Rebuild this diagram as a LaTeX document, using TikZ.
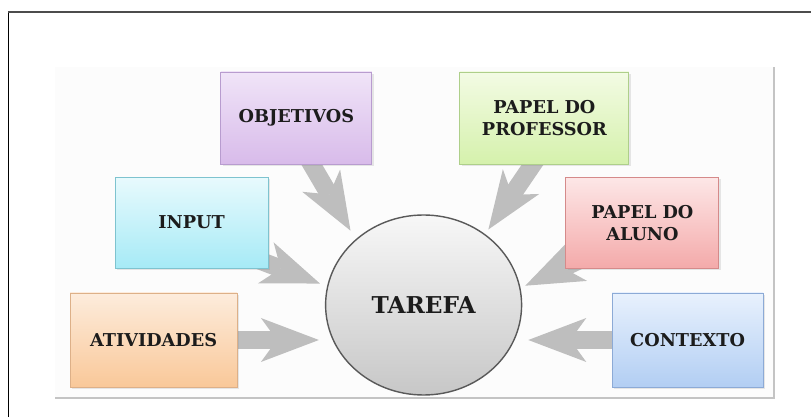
\documentclass[tikz,border=0pt]{standalone}
\usepackage{fontspec}
\setmainfont{DejaVu Serif}
\usetikzlibrary{arrows.meta,shapes.geometric,shadows,backgrounds}

\definecolor{setacinza}{HTML}{BEBEBE}
\definecolor{fundo}{HTML}{FCFCFC}
\definecolor{moldura}{HTML}{C4C4C4}
\definecolor{texto}{HTML}{1C1C1C}
\definecolor{objA}{HTML}{F0E4F8}\definecolor{objB}{HTML}{D8BBEA}\definecolor{objL}{HTML}{B89CCF}
\definecolor{profA}{HTML}{F3FBE4}\definecolor{profB}{HTML}{D5F1AC}\definecolor{profL}{HTML}{AECF8A}
\definecolor{inpA}{HTML}{E8FAFD}\definecolor{inpB}{HTML}{A6EAF6}\definecolor{inpL}{HTML}{7EC3CF}
\definecolor{alunoA}{HTML}{FDE7E7}\definecolor{alunoB}{HTML}{F4AAAA}\definecolor{alunoL}{HTML}{D58A8A}
\definecolor{ativA}{HTML}{FDECDC}\definecolor{ativB}{HTML}{F9C899}\definecolor{ativL}{HTML}{DDB088}
\definecolor{contA}{HTML}{E8F1FD}\definecolor{contB}{HTML}{B2CEF3}\definecolor{contL}{HTML}{8CAAD6}

\tikzset{
  caixa/.style n args={3}{rectangle, top color=#1, bottom color=#2, draw=#3, line width=0.6pt,
    align=center, text=texto, font=\fontsize{12.6}{15.6}\selectfont\bfseries,
    drop shadow={opacity=0.18, shadow xshift=0.04cm, shadow yshift=-0.05cm}},
  seta/.style={draw=setacinza, line width=0.45cm,
    -{Stealth[length=1.45cm, width=1.1cm, inset=0.4cm, line width=0pt]}},
}

\begin{document}
\begin{tikzpicture}
    \useasboundingbox (0,0) rectangle (20.275,10.425);
    \draw[line width=1pt] (0.2125,0) -- (0.2125,10.125);
    \draw[line width=1pt, color=black!70] (0.2125,10.125) -- (20.275,10.125);

    \node[caixa={objA}{objB}{objL}, minimum width=3.775cm, minimum height=2.3cm] (obj) at (7.41,7.475) {OBJETIVOS};
    \node[caixa={profA}{profB}{profL}, minimum width=4.225cm, minimum height=2.3cm] (prof) at (13.61,7.475) {PAPEL DO\\PROFESSOR};
    \node[caixa={inpA}{inpB}{inpL}, minimum width=3.825cm, minimum height=2.275cm] (inp) at (4.79,4.86) {INPUT};
    \node[caixa={alunoA}{alunoB}{alunoL}, minimum width=3.825cm, minimum height=2.275cm] (aluno) at (16.06,4.86) {PAPEL DO\\ALUNO};
    \node[caixa={ativA}{ativB}{ativL}, minimum width=4.175cm, minimum height=2.35cm] (ativ) at (3.84,1.925) {ATIVIDADES};
    \node[caixa={contA}{contB}{contL}, minimum width=3.775cm, minimum height=2.35cm] (cont) at (17.19,1.925) {CONTEXTO};

    \node[ellipse, draw=black!65, line width=1pt, top color=black!3, bottom color=black!22,
      minimum width=4.9cm, minimum height=4.5cm, text=texto,
      font=\fontsize{16.5}{20}\selectfont\bfseries] (tarefa) at (10.59,2.8) {TAREFA};

    \begin{scope}[on background layer]
      \fill[fundo] (1.375,0.475) rectangle (19.35,8.75);
      \draw[moldura, line width=1.2pt] (1.375,0.475) -- (19.35,0.475) -- (19.35,8.75);

      \draw[seta] (ativ.east) -- ([xshift=-0.15cm]ativ.east -| tarefa.west);
      \draw[seta] (cont.west) -- ([xshift=0.15cm]cont.west -| tarefa.east);
      \draw[seta, shorten >=0.19cm] ([yshift=-0.3cm]inp.center) -- (tarefa.169);
      \draw[seta, shorten >=0.25cm] ([xshift=-0.3cm]obj.center) -- (tarefa.136);
      \draw[seta, shorten >=0.14cm] ([xshift=0.5cm]prof.center) -- (tarefa.49);
      \draw[seta, shorten >=0.13cm] ([yshift=-0.2cm]aluno.center) -- (tarefa.10);
    \end{scope}
\end{tikzpicture}
\end{document}
